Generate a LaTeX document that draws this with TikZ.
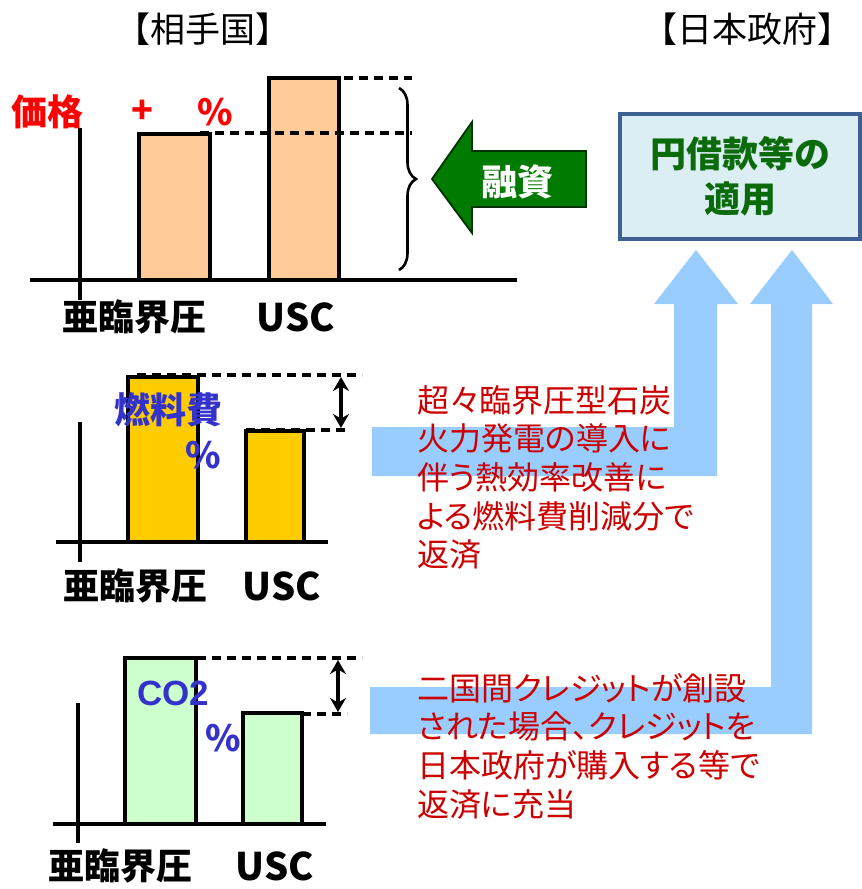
\documentclass[tikz,border=0pt]{standalone}
\usepackage{fontspec}
\setmainfont{Noto Sans CJK JP}
\newfontfamily\latin{Liberation Sans}
\newfontfamily\notefont[RawFeature=+palt]{Noto Sans CJK JP}
\usetikzlibrary{arrows.meta, decorations.pathreplacing}

\definecolor{peach}{HTML}{FFCC99}
\definecolor{gold}{HTML}{FFCC00}
\definecolor{mint}{HTML}{CCFFCC}
\definecolor{skyarrow}{HTML}{99CCFF}
\definecolor{fundgreen}{HTML}{007A00}
\definecolor{boxfill}{HTML}{DBEEF4}
\definecolor{boxline}{HTML}{3E6192}
\definecolor{notered}{HTML}{CC0000}
\definecolor{markblue}{HTML}{3333CC}
\definecolor{loantext}{HTML}{0B6B0B}

\tikzset{
  bar/.style={draw=black, line width=3.2pt},
  axis/.style={line width=3.2pt},
  gap/.style={line width=3.6pt, dash pattern=on 9pt off 6pt},
  span/.style={line width=3.2pt, {Stealth[length=14pt,width=16pt]}-{Stealth[length=14pt,width=16pt]}},
  head/.style={inner sep=0pt, font=\fontsize{35}{38}\selectfont},
  tick/.style={inner sep=0pt, font=\bfseries\fontsize{36}{40}\selectfont},
  note/.style={inner sep=0pt, anchor=north west, align=left, text=notered,
    font=\notefont\fontsize{32}{38.7}\selectfont},
}

\begin{document}
\begin{tikzpicture}[x=1pt, y=-1pt]
  \useasboundingbox (0,0) rectangle (862,889);

  \fill[skyarrow] (372,427) -- (674,427) -- (674,304) -- (654,304) -- (696,250)
    -- (738,304) -- (717,304) -- (717,476) -- (372,476) -- cycle;
  \fill[skyarrow] (370,687) -- (771,687) -- (771,304) -- (750,304) -- (792,250)
    -- (833,304) -- (812,304) -- (812,734) -- (370,734) -- cycle;

  \node[head] (partner) at (203,29) {【相手国】};
  \node[head] (japan) at (747,29) {【日本政府】};

  % price chart
  \draw[bar, fill=peach] (139,280) rectangle (210,134);
  \draw[bar, fill=peach] (269,280) rectangle (339,78);
  \draw[axis] (30,280) -- (517,280);
  \draw[axis] (80,128) -- (80,300);
  \coordinate (subtop) at (200,133);
  \coordinate (usctop) at (269,78);
  \coordinate (subend) at (412,133);
  \coordinate (uscend) at (412,78);
  \draw[gap] (usctop) -- (uscend);
  \draw[gap] (subtop) -- (subend);
  \draw[line width=2.6pt, decorate, decoration={brace, amplitude=17pt}] (399,88) -- (399,270);

  \node[tick, text=red] (price) at (47,112) {価格};
  \node[tick, text=red] (plus) at (142,112) {+};
  \node[tick, text=red] (pct1) at (215,112) {\%};
  \node[tick] (sub1) at (134,317) {亜臨界圧};
  \node[tick, font=\bfseries\fontsize{38}{40}\selectfont] (usc1) at (296,317) {USC};

  \filldraw[fill=fundgreen, draw=black!60!fundgreen, line width=1.8pt]
    (432,179) -- (472,122) -- (472,151) -- (586,151) -- (586,207) -- (472,207)
    -- (472,233) -- cycle;
  \node[tick, text=white] (fund) at (517,182) {融資};

  \node[draw=boxline, fill=boxfill, line width=3.8pt, minimum width=240pt,
    minimum height=125pt, align=center, text=loantext,
    font=\bfseries\fontsize{36}{45}\selectfont] (loan) at (740,176.5) {円借款等の\\適用};

  % fuel chart
  \draw[bar, fill=gold] (128,542) rectangle (198,377);
  \draw[bar, fill=gold] (246,542) rectangle (304,431);
  \draw[axis] (56,542) -- (328,542);
  \draw[axis] (80,422) -- (80,562);
  \coordinate (fueltop) at (137,375);
  \coordinate (fueltopend) at (362,375);
  \coordinate (fuellow) at (246,430);
  \coordinate (fuellowend) at (347,430);
  \draw[gap] (fueltop) -- (fueltopend);
  \draw[gap] (fuellow) -- (fuellowend);
  \draw[span] (341,377) -- (341,428);

  \node[tick, text=markblue] (fuel) at (168,410) {燃料費};
  \node[tick, text=markblue] (pct2) at (203,455) {\%};
  \node[tick] (sub2) at (135,586) {亜臨界圧};
  \node[tick, font=\bfseries\fontsize{38}{40}\selectfont] (usc2) at (282,586) {USC};

  \node[note] (note1) at (417,385) {超々臨界圧型石炭\\火力発電の導入に\\伴う熱効率改善に\\よる燃料費削減分で\\返済};

  % co2 chart
  \draw[bar, fill=mint] (125,824) rectangle (196,658);
  \draw[bar, fill=mint] (243,824) rectangle (302,713);
  \draw[axis] (53,824) -- (326,824);
  \draw[axis] (78,703) -- (78,843);
  \coordinate (co2top) at (137,658);
  \coordinate (co2topend) at (362,658);
  \coordinate (co2low) at (302,714);
  \coordinate (co2lowend) at (347,714);
  \draw[gap] (co2top) -- (co2topend);
  \draw[gap] (co2low) -- (co2lowend);
  \draw[span] (338,660) -- (338,712);

  \node[inner sep=0pt, text=markblue, font=\latin\bfseries\fontsize{35}{40}\selectfont] (co2) at (173,693) {CO2};
  \node[tick, text=markblue] (pct3) at (223,738) {\%};
  \node[tick] (sub3) at (120,866) {亜臨界圧};
  \node[tick, font=\bfseries\fontsize{38}{40}\selectfont] (usc3) at (275,866) {USC};

  \node[note] (note2) at (417,673) {二国間クレジットが創設\\された場合、クレジットを\\日本政府が購入する等で\\返済に充当};
\end{tikzpicture}
\end{document}
